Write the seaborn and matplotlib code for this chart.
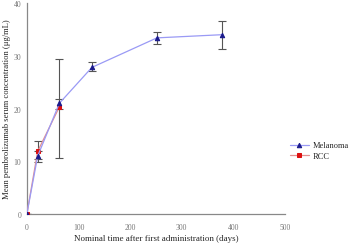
import seaborn as sns
import pandas as pd
import matplotlib.pyplot as plt

days = [0, 21, 63, 126, 252, 378]
mel_mean = [0, 11.0, 21.0, 27.8, 33.4, 34.0]
mel_lo = [0, 9.9, 20.0, 27.1, 32.2, 31.3]
mel_hi = [0, 12.0, 21.9, 28.8, 34.6, 36.6]

rcc_days = [0, 21, 63]
rcc_mean = [0, 11.9, 20.3]
rcc_lo = [0, 10.5, 10.7]
rcc_hi = [0, 13.8, 29.4]

sns.set_style("white")
plt.rcParams['font.family'] = ['Liberation Serif', 'DejaVu Serif']

fig = plt.figure(figsize=(3.58, 2.53), dpi=100)
ax = fig.add_axes([0.075, 0.15, 0.721, 0.834])

df_mel = pd.DataFrame({'day': days, 'conc': mel_mean})
df_rcc = pd.DataFrame({'day': rcc_days, 'conc': rcc_mean})

#error bars
ax.errorbar(days, mel_mean,
            yerr=[[m - l for m, l in zip(mel_mean, mel_lo)], [h - m for m, h in zip(mel_mean, mel_hi)]],
            fmt='none', ecolor='#555555', elinewidth=0.8, capsize=3, capthick=0.8, zorder=2)
ax.errorbar(rcc_days, rcc_mean,
            yerr=[[m - l for m, l in zip(rcc_mean, rcc_lo)], [h - m for m, h in zip(rcc_mean, rcc_hi)]],
            fmt='none', ecolor='#555555', elinewidth=0.8, capsize=3, capthick=0.8, zorder=2)

sns.lineplot(data=df_mel, x='day', y='conc', ax=ax, color='#9a9af5', lw=0.9,
             marker='^', markersize=3.2, markerfacecolor='#1a1a8c', markeredgecolor='#1a1a8c',
             label='Melanoma', zorder=4)
sns.lineplot(data=df_rcc, x='day', y='conc', ax=ax, color='#e49090', lw=0.9,
             marker='s', markersize=3, markerfacecolor='#dd1111', markeredgecolor='#dd1111',
             label='RCC', zorder=3)

ax.set_xlim(0, 500)
ax.set_ylim(0, 40)
ax.set_xticks([0, 100, 200, 300, 400, 500])
ax.set_yticks([0, 10, 20, 30, 40])
ax.tick_params(axis='both', labelsize=5.5, colors='#777777', length=3, width=0.8, direction='out')
ax.tick_params(axis='y', length=0, pad=4)
for s in ['top', 'right']:
    ax.spines[s].set_visible(False)
for s in ['left', 'bottom']:
    ax.spines[s].set_color('#888888')
    ax.spines[s].set_linewidth(0.9)

ax.set_xlabel('Nominal time after first administration (days)', fontsize=6.5, labelpad=2)
ax.set_ylabel('Mean pembrolizumab serum concentration (\u03bcg/mL)', fontsize=6.2, labelpad=2)

leg = ax.legend(loc='center left', bbox_to_anchor=(0.99, 0.30), fontsize=6, frameon=False,
                handlelength=2.3, handletextpad=0.4, labelspacing=0.3)
ax.grid(False)

fig.savefig('out.png', dpi=100)
